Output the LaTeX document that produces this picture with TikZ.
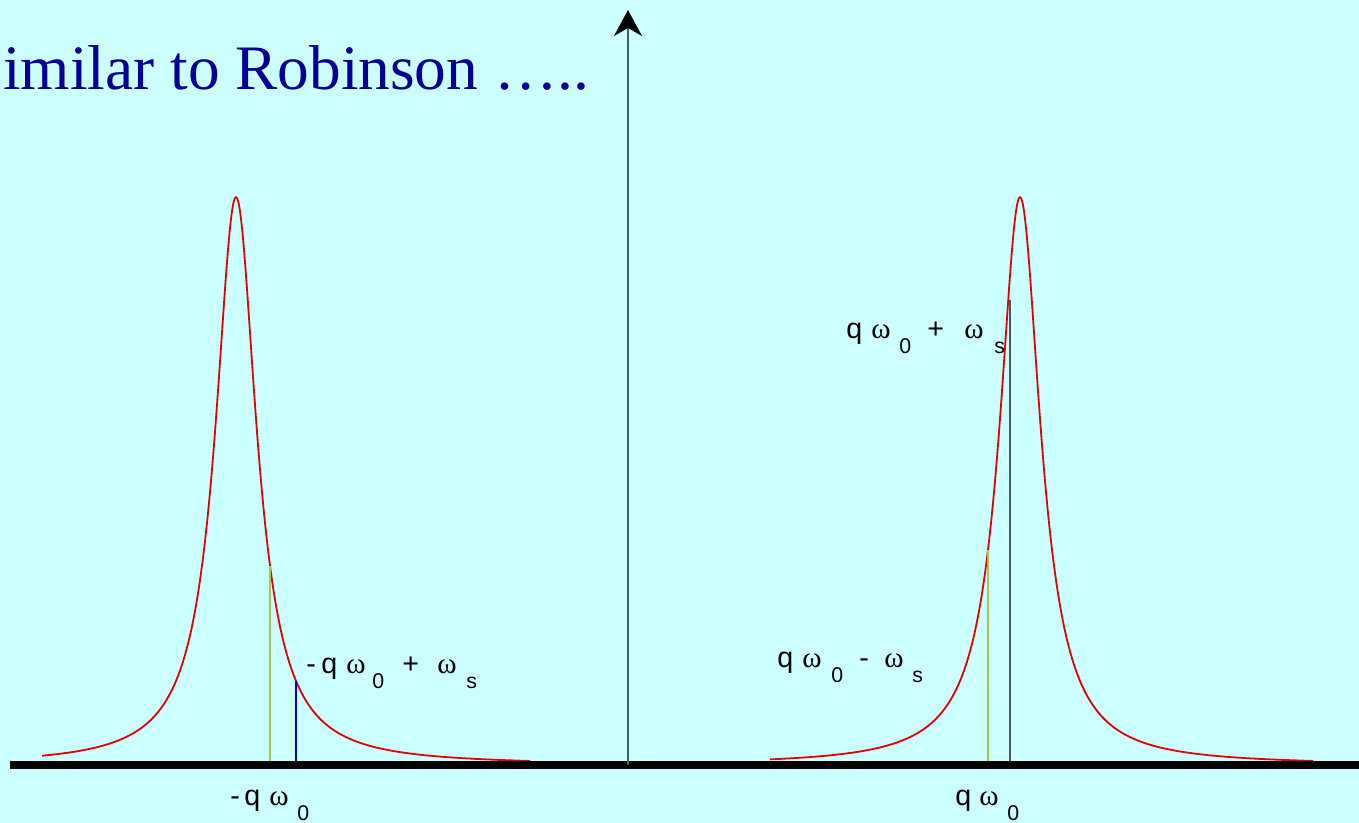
\documentclass[tikz,border=0pt]{standalone}
\usepackage{fontspec}
\setmainfont{Liberation Sans}
\newfontfamily\sansf{Liberation Sans}
\newfontfamily\serf{Liberation Serif}
\usetikzlibrary{arrows.meta}
\definecolor{bgcyan}{RGB}{204,255,255}
\definecolor{titleblue}{RGB}{0,0,153}
\definecolor{curvered}{RGB}{230,0,0}
\definecolor{linegreen}{RGB}{165,200,70}
\definecolor{lineblue}{RGB}{0,0,204}
\definecolor{linedark}{RGB}{70,90,90}
\definecolor{axisgray}{RGB}{70,95,95}
\newdimen\pxu \pxu=0.75pt
\newcommand\gp[2]{\makebox[#1\pxu][l]{#2}}
\newcommand\lsub[1]{\raisebox{-15\pxu}{\fontsize{16}{18}\selectfont #1}}
\newcommand\om{{\serf\fontsize{22}{23}\selectfont ω}}
\tikzset{
  redcurve/.style={draw=curvered, line width=1.35pt, line join=round},
  lbl/.style={inner sep=0pt, anchor=base west, font=\sansf\fontsize{21.5}{24}\selectfont},
}
\begin{document}
\begin{tikzpicture}[x=0.75pt, y=-0.75pt]
\fill[bgcyan] (0,0) rectangle (1359,823);
\useasboundingbox (0,0) rectangle (1359,823);
% title
\node[anchor=base west, inner sep=0pt, text=titleblue, font=\serf\fontsize{47.5}{50}\selectfont] (title) at (3,90) {imilar to Robinson …..};
% curves
\draw[redcurve] plot[domain=42:530, samples=500] (\x, {765-568/(1+((\x-236)/25)^2)});
\draw[redcurve] plot[domain=770:1313, samples=500] (\x, {765-568/(1+((\x-1020)/25)^2)});
% vertical markers
\coordinate (lgb) at (270,765);
\coordinate (lgt) at (270,{765-568/(1+(34/25)^2)});
\coordinate (lbb) at (296,765);
\coordinate (lbt) at (296,{765-568/(1+(60/25)^2)});
\coordinate (rgb) at (988,765);
\coordinate (rgt) at (988,{765-568/(1+(32/25)^2)});
\coordinate (rdb) at (1010,765);
\coordinate (rdt) at (1010,300);
\draw[linegreen, line width=1.5pt] (lgb) -- (lgt);
\draw[lineblue, line width=0.9pt] (lbb) -- (lbt);
\draw[linegreen, line width=0.9pt] (rgb) -- (rgt);
\draw[linedark, line width=1.3pt] (rdb) -- (rdt);
% baseline
\coordinate (b0) at (10,765);
\coordinate (b1) at (1359,765);
\draw[black, line width=6pt] (b0) -- (b1);
% axis
\coordinate (a0) at (628,765);
\coordinate (a1) at (628,10);
\draw[axisgray, line width=0.9pt, -{Stealth[length=19.5pt, width=21pt, inset=6pt, color=black]}] (a0) -- (a1);
% labels
\node[lbl] (l1) at (306,673) {\gp{15}{-}\gp{25}{q}\gp{26}{\om}\gp{30}{\lsub{0}}\gp{35}{+}\gp{29}{\om}\lsub{s}};
\node[lbl] (l2) at (846,339) {\gp{25}{q}\gp{28}{\om}\gp{28}{\lsub{0}}\gp{37}{+}\gp{30}{\om}\lsub{s}};
\node[lbl] (l3) at (777,667) {\gp{25}{q}\gp{29}{\om}\gp{28}{\lsub{0}}\gp{25}{-}\gp{28}{\om}\lsub{s}};
\node[lbl] (l4) at (230,805) {\gp{14}{-}\gp{25}{q}\gp{28}{\om}\lsub{0}};
\node[lbl] (l5) at (955,805) {\gp{24}{q}\gp{28}{\om}\lsub{0}};
\end{tikzpicture}
\end{document}
